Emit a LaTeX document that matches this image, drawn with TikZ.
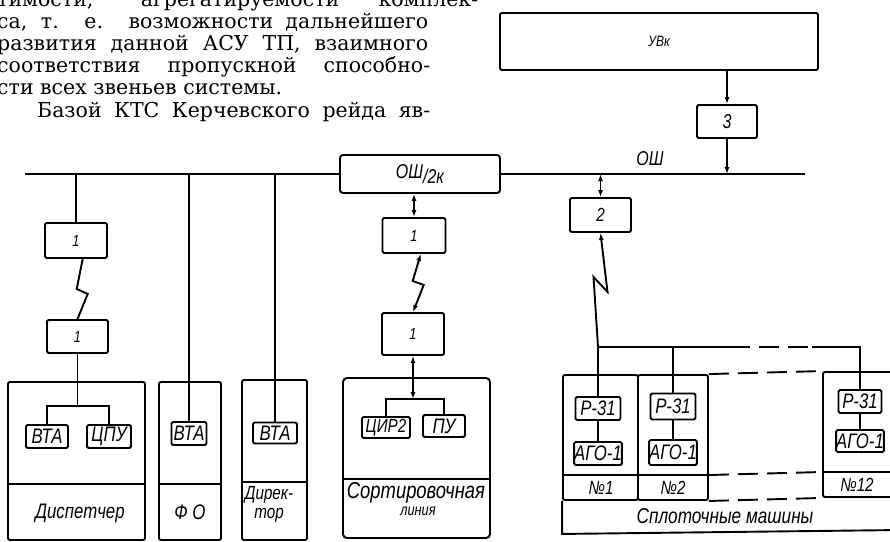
\documentclass[tikz,border=0pt]{standalone}
\usepackage{fontspec}
\setmainfont{DejaVu Serif}
\newfontfamily\gostfont[FakeStretch=0.8]{Liberation Sans}
\usetikzlibrary{arrows.meta, positioning}
\newcommand{\gostsize}[1]{\gostfont\itshape\fontsize{#1}{#1}\selectfont}
\tikzset{
	blk/.style 2 args={draw, line width=1.9pt, rounded corners=1.5pt,
		minimum width=#1pt, minimum height=#2pt, inner sep=0pt,
		font=\gostsize{21}},
	frame/.style 2 args={draw, line width=1.9pt, rounded corners=2pt,
		minimum width=#1pt, minimum height=#2pt, inner sep=0pt},
	lbl/.style={inner sep=0pt, align=center, font=\gostsize{21}},
	wire/.style={line width=1.9pt},
	dir/.style={wire, -{Latex[length=7pt,width=5pt]}},
	bidir/.style={wire, {Latex[length=7pt,width=5pt]}-{Latex[length=7pt,width=5pt]}},
	dashwire/.style={wire, dash pattern=on 20pt off 9pt},
	para/.style={anchor=base west, inner sep=0pt, font=\fontsize{20.5}{22}\selectfont},
}

\begin{document}
\begin{tikzpicture}[x=1pt, y=-1pt]
	\useasboundingbox (0,0) rectangle (890,541);
	% text of the page
	\node[para] (t1) at (-3,6) {\makebox[481pt][s]{тимости, агрегатируемости комплек-}};
	\node[para] (t2) at (-3,28) {\makebox[431pt][s]{са, т. е. возможности дальнейшего}};
	\node[para] (t3) at (-3,50) {\makebox[431pt][s]{развития данной АСУ ТП, взаимного}};
	\node[para] (t4) at (-3,72) {\makebox[433pt][s]{соответствия пропускной способно-}};
	\node[para] (t5) at (-3,94) {сти всех звеньев системы.};
	\node[para] (t6) at (37,117) {\makebox[393pt][s]{Базой КТС Керчевского рейда яв-}};

	% upper level
	\node[blk={318}{57}, font=\gostsize{15}] (uvk) at (659,41.5) {УВк};
	\node[blk={60}{33}, font=\gostsize{20}] (b3) at (727,121.5) {3};
	\node[blk={160}{38}, rounded corners=3pt, font=\gostsize{20}] (osh2k) at (420,174) {ОШ\raisebox{-5pt}{/2к}};
	\coordinate (bus0) at (25,174);
	\coordinate (bus1) at (805,174);
	\node[lbl, font=\gostsize{20}] (oshlbl) at (650,159) {ОШ};
	\draw[wire] (bus0) -- (osh2k.west);
	\draw[wire] (osh2k.east) -- (bus1);
	\draw[dir] (uvk.south -| b3) -- (b3.north);
	\draw[dir] (b3.south) -- (b3.south |- osh2k.east);

	% dispatcher
	\node[blk={62}{35}, font=\gostsize{16}] (d1a) at (76,240.5) {1};
	\node[blk={61}{33}, font=\gostsize{16}] (d1b) at (77.5,336.5) {1};
	\node[frame={137}{158}] (disp) at (76.5,461) {};
	\node[blk={42}{23}] (dvta) at (47,436.5) {ВТА};
	\node[blk={44}{23}] (dcpu) at (109,436.5) {ЦПУ};
	\node[lbl] (displbl) at (80,513) {Диспетчер};
	\draw[wire] (disp.west |- 0,484) -- (disp.east |- 0,484);
	\draw[wire] (d1a.north) -- (d1a.north |- bus0);
	\draw[wire] (d1a.290) -- ++(-6,30) -- ++(11,5) -- (d1b.north);
	\draw[wire] (dvta.north) -- ++(0,-18) coordinate (dfork) -| (dcpu.north);
	\draw[wire] (d1b.south) -- (d1b.south |- dfork);

	% FO and director
	\node[frame={62}{158}] (fo) at (190,461) {};
	\node[blk={35}{23}] (fvta) at (189,433.5) {ВТА};
	\node[lbl] (folbl) at (190,512) {Ф О};
	\node[frame={65}{160}] (dirb) at (274.5,460) {};
	\node[blk={44}{21}] (rvta) at (275,433) {ВТА};
	\node[lbl, font=\gostsize{19}] (dirlbl) at (269,504) {Дирек-\\тор};
	\draw[wire] (fo.west |- 0,484) -- (fo.east |- 0,484);
	\draw[wire] (dirb.west |- 0,482) -- (dirb.east |- 0,482);
	\draw[wire] (fvta.north) -- (fvta.north |- bus0);
	\draw[wire] (rvta.north) -- (rvta.north |- bus0);

	% sorting line
	\node[blk={63}{35}, font=\gostsize{16}] (m1a) at (414,235.5) {1};
	\node[blk={62}{42}, font=\gostsize{16}] (m1b) at (413,334) {1};
	\node[frame={147}{160}, rounded corners=4pt] (sort) at (416.5,458) {};
	\node[blk={48}{21}, font=\gostsize{19}] (scir) at (386,427.5) {ЦИР2};
	\node[blk={42}{22}] (spu) at (444,426) {ПУ};
	\node[lbl, font=\gostsize{23}] (sortlbl) at (416,493) {Сортировочная};
	\node[lbl, font=\gostsize{16}] (sortlbl2) at (418,511) {линия};
	\draw[wire] (sort.west |- 0,479) -- (sort.east |- 0,479);
	\draw[bidir] (m1a.north) -- (m1a.north |- osh2k.south);
	\draw[bidir] (m1a.290) -- ++(-8,27) -- ++(11,4) -- (m1b.north);
	\draw[wire] (scir.north) -- ++(0,-17) coordinate (sfork) -| (spu.north);
	\draw[bidir] (m1b.south) -- (m1b.south |- sfork);

	% rafting machines
	\node[blk={61}{34}, font=\gostsize{19}] (b2) at (600.5,215) {2};
	\draw[bidir] (b2.north) -- (b2.north |- bus1);
	\draw[wire, {Latex[length=7pt,width=5pt]}-] (b2.south) -- ++(7,59) -- ++(-14,-15) -- (598,347) coordinate (mfork);
	\node[frame={75}{125}] (mach1) at (600.5,437.5) {};
	\node[frame={70}{125}] (mach2) at (673,437.5) {};
	\node[frame={77}{125}] (mach12) at (861.5,434.5) {};
	\node[blk={45}{23}] (p31a) at (598,408.5) {Р-31};
	\node[blk={45}{23}] (agoa) at (598,453.5) {АГО-1};
	\node[blk={45}{26}] (p31b) at (673,406.5) {Р-31};
	\node[blk={45}{25}] (agob) at (673,452.5) {АГО-1};
	\node[blk={43}{23}] (p31c) at (860,401.5) {Р-31};
	\node[blk={42}{22}] (agoc) at (860,441) {АГО-1};
	\node[lbl, font=\gostsize{19}] (n1) at (601,488) {№1};
	\node[lbl, font=\gostsize{19}] (n2) at (673,488) {№2};
	\node[lbl, font=\gostsize{19}] (n12) at (857,485) {№12};
	\node[lbl, font=\gostsize{21.5}] (machlbl) at (725,516) {Сплоточные машины};
	\draw[wire] (mach1.west |- 0,475) -- (mach2.east |- 0,475);
	\draw[wire] (mach12.west |- 0,472) -- (mach12.east |- 0,472);
	\draw[wire] (mach1.south west) -- ++(0,33) -- (900,530);
	\draw[dashwire] (mach2.north east) -- (mach12.north west);
	\draw[dashwire] (mach2.east |- 0,475) -- (mach12.west |- 0,472);
	\draw[dashwire] (mach2.south east) -- (mach12.south west);
	\draw[wire] (mfork) -- (730,347);
	\draw[dashwire] (730,347) -- (812,347);
	\draw[wire] (812,347) -- (p31c.north |- mfork) -- (p31c.north);
	\draw[wire] (mfork) -- (p31a.north);
	\draw[wire] (p31b.north) -- (p31b.north |- mfork);
	\foreach \a/\b in {p31a/agoa, p31b/agob, p31c/agoc}
	\draw[wire] (\a) -- (\b);
\end{tikzpicture}
\end{document}
